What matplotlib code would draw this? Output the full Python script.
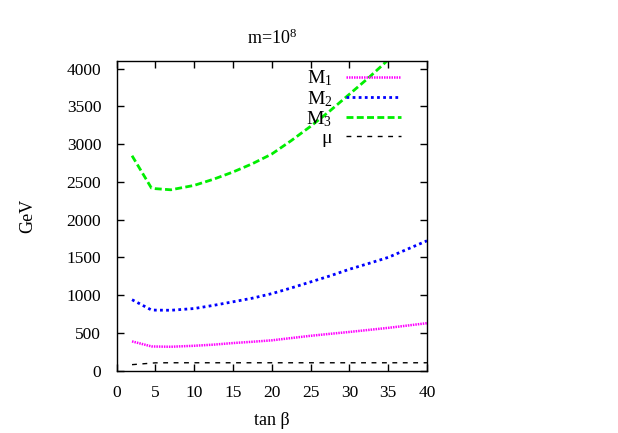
import matplotlib
matplotlib.use("Agg")
import matplotlib.pyplot as plt

tanb = [2, 4.5, 5, 7, 10, 12.5, 15, 17.5, 20, 22.5, 25, 27.5, 30, 32.5, 35, 37.5, 40]
M1 = [388, 322, 320, 317, 330, 345, 366, 383, 402, 432, 462, 488, 513, 540, 567, 598, 629]
M2 = [940, 804, 802, 800, 823, 865, 912, 960, 1020, 1095, 1175, 1255, 1343, 1420, 1500, 1610, 1720]
tanb3 = [2, 4.5, 5, 7, 10, 12.5, 15, 17.5, 20, 22.5, 25, 27.5, 30, 32.5, 35]
M3 = [2846, 2418, 2410, 2395, 2453, 2535, 2630, 2740, 2868, 3045, 3235, 3440, 3660, 3880, 4115]
mu = [80, 100, 104, 105, 105, 105, 105, 105, 105, 105, 105, 105, 105, 105, 105, 105, 105]

xticks = [0, 5, 10, 15, 20, 25, 30, 35, 40]
yticks = [0, 500, 1000, 1500, 2000, 2500, 3000, 3500, 4000]

plt.rcParams['font.family'] = ['Liberation Serif', 'DejaVu Serif']
plt.rcParams['mathtext.fontset'] = 'custom'
plt.rcParams['mathtext.rm'] = 'Liberation Serif'
plt.rcParams['mathtext.it'] = 'Liberation Serif'

fig = plt.figure(figsize=(6.18, 4.33), dpi=100)
ax = fig.add_axes([116.5/618, 1 - 370.7/433, (427 - 116.5)/618, (370.7 - 61)/433])

ax.plot(tanb, M1, color='#ff00ff', lw=1.8, ls=(0, (0.6, 0.4)), label='M$_1$')
ax.plot(tanb, M2, color='#0000ff', lw=2.0, ls=(0, (1, 1.2)), label='M$_2$')
ax.plot(tanb3, M3, color='#00ee00', lw=2.0, ls=(0, (2.5, 1.2)), label='M$_3$')
ax.plot(tanb, mu, color='black', lw=1.0, ls=(0, (3.5, 4)), label='μ')

ax.set_xlim(0, 40)
ax.set_ylim(0, 4100)
ax.set_xticks(xticks)
ax.set_yticks(yticks)
ax.tick_params(direction='in', length=5, width=1, top=True, right=True, labelsize=12.5)
ax.tick_params(axis='x', pad=10)
ax.tick_params(axis='y', pad=11)
for s in ax.spines.values():
    s.set_linewidth(1.0)

ax.set_title('m=10$^8$', fontsize=13, pad=12)
ax.set_xlabel('tan β', fontsize=13, labelpad=8)
ax.set_ylabel('GeV', fontsize=13, labelpad=22)

leg = ax.legend(loc='upper right', markerfirst=False, frameon=False, fontsize=14,
                handlelength=2.85, handletextpad=0.7, labelspacing=0.02,
                borderaxespad=0.0, bbox_to_anchor=(0.942, 1.0))

fig.savefig('out.png', dpi=100)
